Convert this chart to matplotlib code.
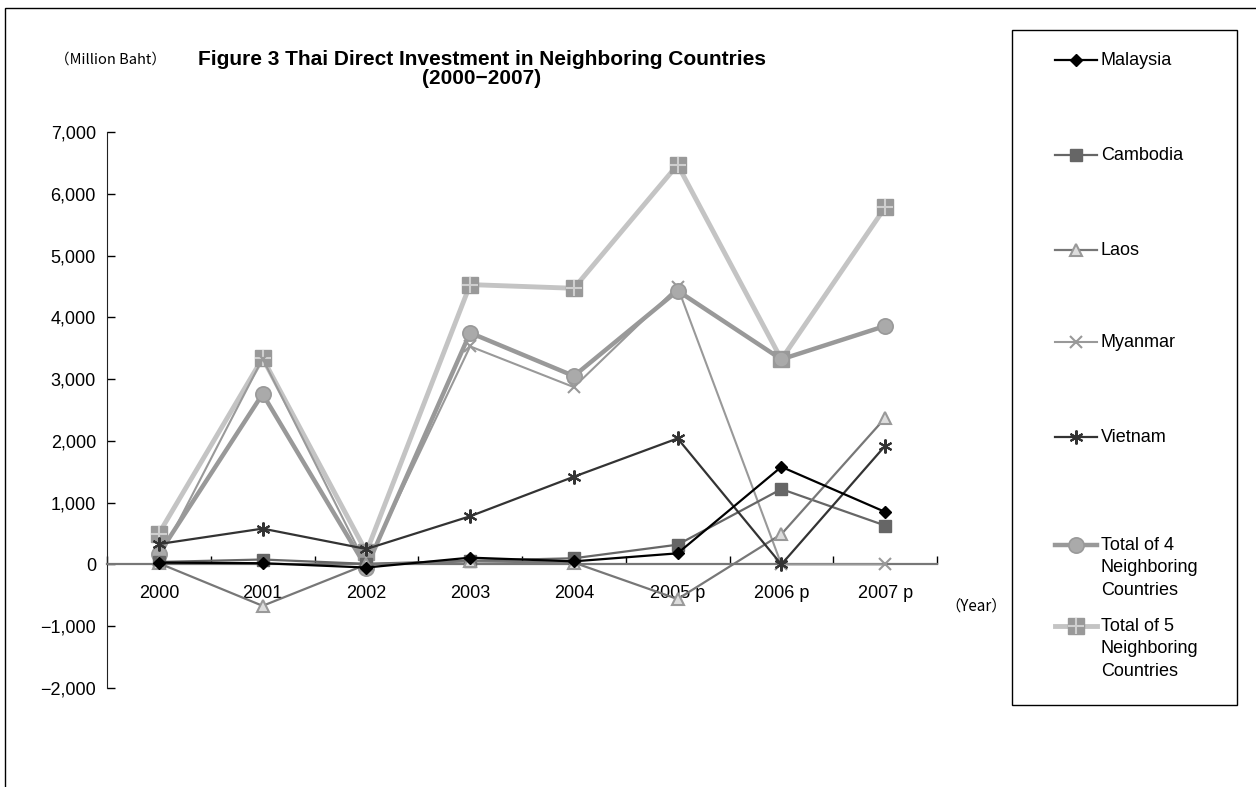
import matplotlib
matplotlib.use("Agg")
import matplotlib.pyplot as plt
from matplotlib.patches import Rectangle
from matplotlib.lines import Line2D

plt.rcParams['font.family'] = ['Liberation Sans', 'Noto Sans CJK JP', 'DejaVu Sans']

years = ["2000", "2001", "2002", "2003", "2004", "2005 p", "2006 p", "2007 p"]
series_names = ["Malaysia", "Cambodia", "Laos", "Myanmar", "Vietnam",
                "Total of 4\nNeighboring\nCountries", "Total of 5\nNeighboring\nCountries"]
malaysia = [30, 20, -50, 110, 50, 180, 1580, 850]
cambodia = [40, 80, 10, 60, 100, 320, 1220, 630]
laos = [20, -670, 0, 50, 30, -560, 490, 2370]
myanmar = [80, 3330, -10, 3530, 2870, 4490, 0, 0]
vietnam = [330, 580, 250, 780, 1420, 2040, 0, 1920]
total4 = [170, 2760, -50, 3750, 3050, 4430, 3320, 3860]
total5 = [500, 3340, 200, 4530, 4470, 6470, 3320, 5780]

styles = [
    dict(color='black', lw=1.6, marker='D', ms=6, mfc='black', mec='black', zorder=5),
    dict(color='#666666', lw=1.6, marker='s', ms=8, mfc='#666666', mec='#666666', zorder=4),
    dict(color='#777777', lw=1.6, marker='^', ms=8, mfc='#dddddd', mec='#999999', mew=1.5, zorder=4),
    dict(color='#999999', lw=1.5, marker='x', ms=8, mec='#999999', mew=1.5, zorder=3),
    dict(color='#333333', lw=1.6, marker=(6, 2, 0), ms=10, mec='#333333', mew=1.5, zorder=4),
    dict(color='#999999', lw=3.2, marker='o', ms=11, mfc='#aaaaaa', mec='#999999', mew=1.2, zorder=3),
    dict(color='#c4c4c4', lw=3.5, marker='s', ms=12, mfc='#999999', mec='#999999', zorder=2),
]
data = [malaysia, cambodia, laos, myanmar, vietnam, total4, total5]

W, H = 1256, 787
fig = plt.figure(figsize=(W / 100, H / 100), dpi=100)

# outer frame
fig.add_artist(Rectangle((5 / W, -0.05), 1.2, (H - 8) / H + 0.05, transform=fig.transFigure,
                         fill=False, edgecolor='black', linewidth=1.0))

ax = fig.add_axes([107 / W, (H - 688) / H, 830 / W, (688 - 132) / H])
x = list(range(len(years)))

for vals, st in zip(data, styles):
    ax.plot(x, vals, **st)
ax.plot(x, total5, lw=0, marker='+', ms=12, mec='#cfcfcf', mew=1.5, zorder=2.5)

ax.set_xlim(-0.5, 7.5)
ax.set_ylim(-2000, 7000)
ax.set_yticks(range(-2000, 7001, 1000))
ax.set_yticklabels([f"{v:,}".replace('-', '−') for v in range(-2000, 7001, 1000)], fontsize=13)
ax.tick_params(axis='y', direction='in', length=6, width=1, pad=8)

ax.spines['top'].set_visible(False)
ax.spines['right'].set_visible(False)
ax.spines['bottom'].set_position(('data', 0))
ax.spines['bottom'].set_color('#777777')
ax.spines['bottom'].set_linewidth(1.6)
ax.spines['left'].set_color('#222222')

ax.set_xticks(x)
ax.set_xticklabels(years, fontsize=13)
ax.set_xticks([i + 0.5 for i in range(-1, 8)], minor=True)
ax.tick_params(axis='x', which='major', length=0, pad=15)
ax.tick_params(axis='x', which='minor', direction='in', length=6, width=1)

fig.text(111 / W, 1 - 60 / H, "（Million Baht）", fontsize=10.5, ha='center', va='center',
         family=['Noto Sans CJK JP', 'DejaVu Sans'])
fig.text(482 / W, 1 - 69 / H, "Figure 3 Thai Direct Investment in Neighboring Countries\n(2000−2007)",
         fontsize=15, fontweight='bold', ha='center', va='center', linespacing=0.95)
fig.text(976 / W, 1 - 606 / H, "（Year）", fontsize=11, ha='center', va='center',
         family=['Noto Sans CJK JP', 'DejaVu Sans'])

# legend box (drawn manually to match the reference layout)
fig.add_artist(Rectangle((1012 / W, 1 - 705 / H), 225 / W, 675 / H, transform=fig.transFigure,
                         fill=False, edgecolor='black', linewidth=1.0))
leg_y = [60, 155, 250, 342, 437, 545, 626]
for name, st, yy in zip(series_names, styles, leg_y):
    yf = 1 - yy / H
    kw = dict(st)
    kw.pop('zorder', None)
    fig.add_artist(Line2D([1055 / W, 1076 / W, 1097 / W], [yf, yf, yf], transform=fig.transFigure,
                          markevery=[1], **kw))
    if name.startswith("Total of 5"):
        fig.add_artist(Line2D([1076 / W], [yf], transform=fig.transFigure, lw=0, marker='+',
                              ms=12, mec='#cfcfcf', mew=1.5))
    fig.text(1101 / W, 1 - (yy - 8) / H, name, fontsize=13, ha='left', va='top', linespacing=1.42)

fig.savefig("out.png", dpi=100)
